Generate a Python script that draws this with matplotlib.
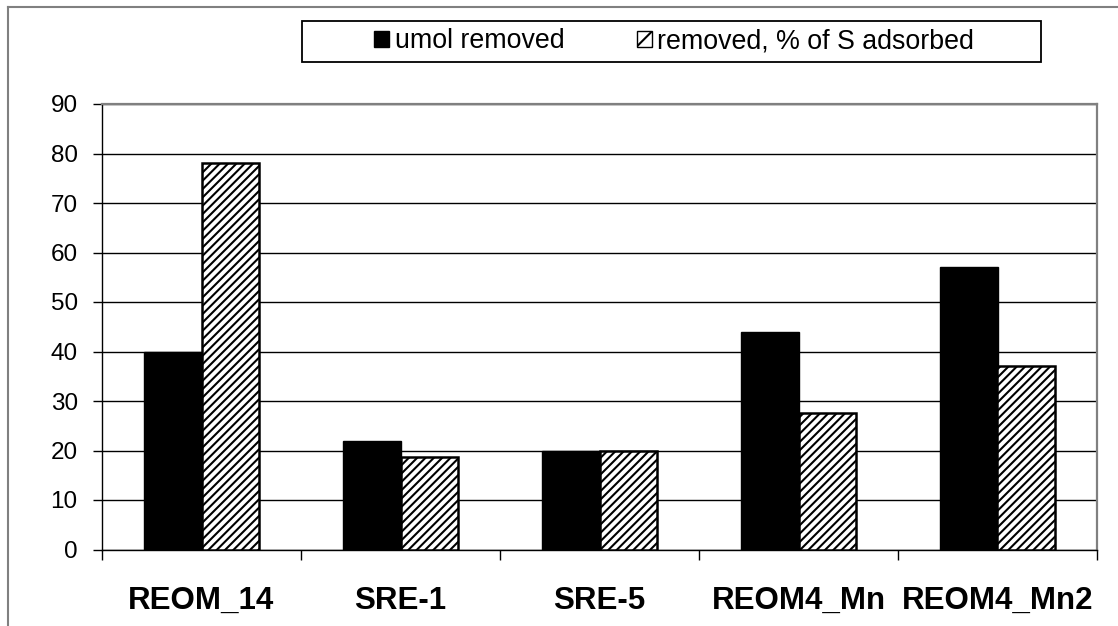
import matplotlib
matplotlib.use('Agg')
import matplotlib.pyplot as plt
from matplotlib.patches import Rectangle, Patch
from matplotlib.lines import Line2D
import numpy as np

plt.rcParams['font.family'] = ['Liberation Sans', 'DejaVu Sans']
plt.rcParams['hatch.linewidth'] = 1.5

samples = ['REOM_14', 'SRE-1', 'SRE-5', 'REOM4_Mn', 'REOM4_Mn2']
umol_removed = [40, 22, 20, 44, 57]
pct_removed = [78, 18.6, 19.9, 27.6, 37]

W, H = 1118, 626
fig = plt.figure(figsize=(W / 100, H / 100), dpi=100)
ax = fig.add_axes([102 / W, 1 - 549.5 / H, (1097 - 102) / W, (549.5 - 104) / H])

x = np.arange(len(samples))
w = 0.29
ax.bar(x - w / 2, umol_removed, w, color='black', edgecolor='black', linewidth=1.0, zorder=3)
ax.bar(x + w / 2, pct_removed, w, color='white', edgecolor='black', hatch='////',
       linewidth=1.8, zorder=3)

ax.set_xlim(-0.5, len(samples) - 0.5)
ax.set_ylim(0, 90)
ax.set_yticks(np.arange(0, 91, 10))
ax.yaxis.grid(True, color='black', linewidth=1.0, zorder=0)
ax.set_axisbelow(True)

# tick marks on category boundaries, labels centred under each group
ax.set_xticks(np.arange(-0.5, len(samples), 1.0))
ax.set_xticklabels([])
ax.set_xticks(x, minor=True)
ax.set_xticklabels(samples, minor=True, fontsize=22.5, fontweight='bold')
ax.tick_params(axis='x', which='major', direction='out', length=7, width=1, color='black')
ax.tick_params(axis='x', which='minor', length=0, pad=26)
ax.tick_params(axis='y', direction='out', length=6.5, width=1, labelsize=17.5, pad=11)

for side in ['left', 'bottom']:
    ax.spines[side].set_color('black')
    ax.spines[side].set_linewidth(1.0)
for side in ['top', 'right']:
    ax.spines[side].set_color('#808080')
    ax.spines[side].set_linewidth(1.6)

# legend frame drawn by hand, entries centred inside
fig.patches.append(Rectangle((302 / W, 1 - 62 / H), (1041 - 302) / W, 41 / H,
                             transform=fig.transFigure, facecolor='white',
                             edgecolor='black', linewidth=1.3))
handles = [Patch(facecolor='black', edgecolor='black', label='umol removed'),
           Patch(facecolor='white', edgecolor='black', hatch='//',
                 label='removed, % of S adsorbed')]
fig.legend(handles=handles, loc='center', bbox_to_anchor=(674 / W, 1 - 41.5 / H),
           ncol=2, frameon=False, fontsize=19.3, handlelength=0.56, handleheight=0.56,
           handletextpad=0.2, columnspacing=2.7, borderpad=0)

# outer chart border (only top and left fall inside the image)
fig.add_artist(Line2D([8 / W, 1], [1 - 7 / H, 1 - 7 / H], transform=fig.transFigure,
                      color='#808080', linewidth=1.5))
fig.add_artist(Line2D([8 / W, 8 / W], [0, 1 - 7 / H], transform=fig.transFigure,
                      color='#808080', linewidth=1.5))

fig.savefig('out.png', dpi=100)
